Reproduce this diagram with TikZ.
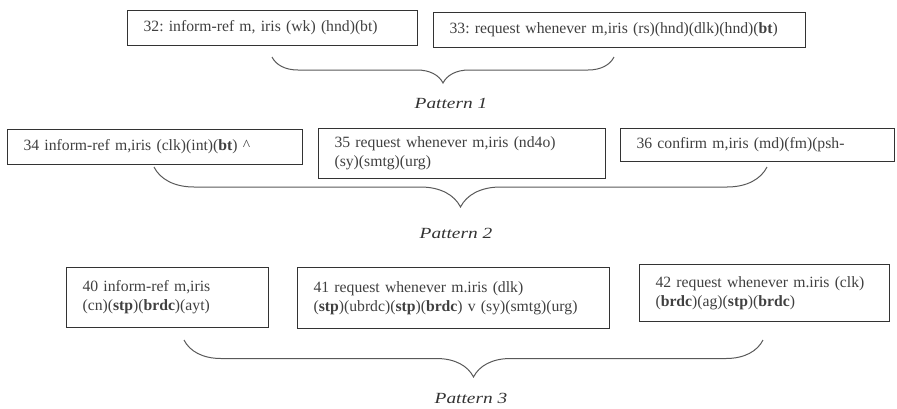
\documentclass[tikz,border=0pt]{standalone}
\usepackage{fontspec}
\usepackage{graphicx}
\setmainfont{Liberation Serif}
\usetikzlibrary{decorations.pathreplacing}
\begin{document}
\begin{tikzpicture}[x=1pt,y=-1pt,
  msgbox/.style={draw=black!80, line width=1.1pt, anchor=north west, inner xsep=16pt, inner ysep=0pt, align=left, text=black!75, font=\fontsize{15.7}{19}\selectfont\frenchspacing},
  patbrace/.style={draw=black!65, line width=1pt, decorate, decoration={brace, amplitude=#1}},
  patlabel/.style={text=black!80, font=\fontsize{15.5}{18}\selectfont\itshape, inner sep=0pt}]
\useasboundingbox (0,0) rectangle (897,408);
% row 1
\node[msgbox, text width=258pt, minimum height=35pt] (m32) at (127,10) {32: inform-ref m, iris (wk) (hnd)(bt)};
\node[msgbox, text width=340pt, minimum height=35pt] (m33) at (433,12) {33: request whenever m,iris (rs)(hnd)(dlk)(hnd)(\textbf{bt})};
\coordinate (b1r) at (614,57);
\coordinate (b1l) at (272,57);
\draw[patbrace=26pt] (b1r) -- (b1l);
\node[patlabel] (p1) at (451,103) {\scalebox{1.25}[1]{Pattern 1}};
% row 2
\node[msgbox, text width=263pt, minimum height=35pt] (m34) at (7,129) {34 inform-ref m,iris (clk)(int)(\textbf{bt}) \textasciicircum};
\node[msgbox, text width=255pt, minimum height=50pt] (m35) at (318,128) {35 request whenever m,iris (nd4o)\\(sy)(smtg)(urg)};
\node[msgbox, text width=242pt, minimum height=33pt] (m36) at (620,128) {36 confirm m,iris (md)(fm)(psh-};
\coordinate (b2r) at (767,167);
\coordinate (b2l) at (154,167);
\draw[patbrace=40pt] (b2r) -- (b2l);
\node[patlabel] (p2) at (456,233) {\scalebox{1.25}[1]{Pattern 2}};
% row 3
\node[msgbox, text width=170pt, minimum height=60pt] (m40) at (66,267) {40 inform-ref m,iris\\(cn)(\textbf{stp})(\textbf{brdc})(ayt)};
\node[msgbox, text width=280pt, minimum height=61pt] (m41) at (297,267) {41 request whenever m.iris (dlk)\\(\textbf{stp})(ubrdc)(\textbf{stp})(\textbf{brdc}) v (sy)(smtg)(urg)};
\node[msgbox, text width=218pt, minimum height=57pt] (m42) at (639,264) {42 request whenever m.iris (clk)\\(\textbf{brdc})(ag)(\textbf{stp})(\textbf{brdc})};
\coordinate (b3r) at (763,340);
\coordinate (b3l) at (184,340);
\draw[patbrace=37pt] (b3r) -- (b3l);
\node[patlabel] (p3) at (471,398) {\scalebox{1.25}[1]{Pattern 3}};
\end{tikzpicture}
\end{document}
